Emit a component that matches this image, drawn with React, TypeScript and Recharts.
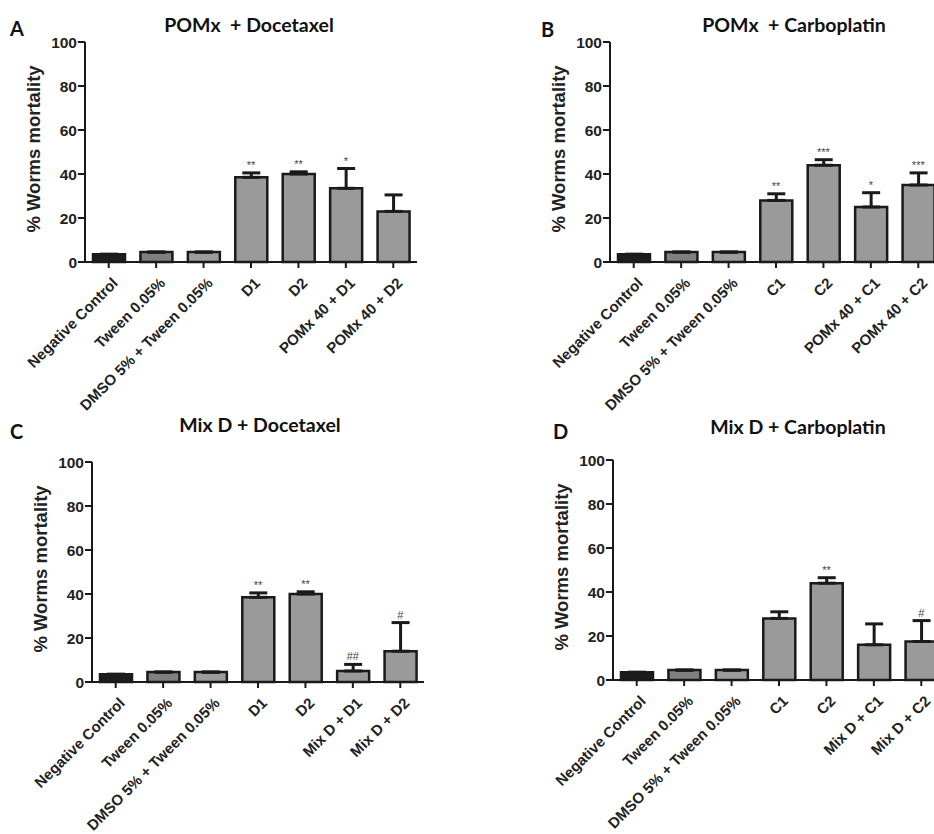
import React from "react"
import { ComposedChart, Bar, Line, XAxis, YAxis, ErrorBar, Cell, LabelList } from "recharts"

const controlLabels = ["Negative Control", "Tween 0.05%", "DMSO 5% + Tween 0.05%"]

const pomxDocLabels = [...controlLabels, "D1", "D2", "POMx 40 + D1", "POMx 40 + D2"]
const pomxDocValues = [3.5, 4.5, 4.5, 38.5, 40, 33.5, 23]
const pomxDocErrors = [0, 0, 0, 2, 1, 9, 7.5]
const pomxDocSig = ["", "", "", "**", "**", "*", ""]

const pomxCarLabels = [...controlLabels, "C1", "C2", "POMx 40 + C1", "POMx 40 + C2"]
const pomxCarValues = [3.5, 4.5, 4.5, 28, 44, 25, 35]
const pomxCarErrors = [0, 0, 0, 3, 2.5, 6.5, 5.5]
const pomxCarSig = ["", "", "", "**", "***", "*", "***"]

const mixDocLabels = [...controlLabels, "D1", "D2", "Mix D + D1", "Mix D + D2"]
const mixDocValues = [3.5, 4.5, 4.5, 38.5, 40, 5, 14]
const mixDocErrors = [0, 0, 0, 2, 1, 3, 13]
const mixDocSig = ["", "", "", "**", "**", "##", "#"]

const mixCarLabels = [...controlLabels, "C1", "C2", "Mix D + C1", "Mix D + C2"]
const mixCarValues = [3.5, 4.5, 4.5, 28, 44, 16, 17.5]
const mixCarErrors = [0, 0, 0, 3, 2.5, 9.5, 9.5]
const mixCarSig = ["", "", "", "", "**", "", "#"]

const yTicks = [0, 20, 40, 60, 80, 100]

const barColors = ["#1c1c1c", "#808080", "#9c9c9c", "#9a9a9a", "#9a9a9a", "#9a9a9a", "#9a9a9a"]
const ink = "#1a1a1a"
const arial = "'Liberation Sans', Arial, sans-serif"
const titleFont = "Lato, 'Open Sans', sans-serif"

function buildRows(labels: string[], values: number[], errors: number[], sig: string[]) {
  return labels.map((name, i) => ({
    name,
    value: values[i],
    err: [0, errors[i]],
    top: values[i] + errors[i],
    sig: sig[i],
  }))
}

function AngledTick(props: any) {
  const { x, y, payload } = props
  return (
    <text
      transform={`translate(${x + 10},${y + 14}) rotate(-45)`}
      textAnchor="end"
      fontSize={15}
      fontWeight="bold"
      fontFamily={arial}
      fill="#222"
    >
      {payload.value}
    </text>
  )
}

function ValueTick(props: any) {
  const { x, y, payload } = props
  return (
    <text
      x={x}
      y={y}
      dy="0.36em"
      textAnchor="end"
      fontSize={15.5}
      fontWeight="bold"
      fontFamily={arial}
      fill="#222"
    >
      {payload.value}
    </text>
  )
}

interface PanelProps {
  letter: string
  title: string
  axisX: number
  y100: number
  letterPos: [number, number]
  titlePos: [number, number]
  rows: ReturnType<typeof buildRows>
}

function Panel({ letter, title, axisX, y100, letterPos, titlePos, rows }: PanelProps) {
  const plotW = 332
  const plotH = 220
  const left = 85
  const top = 30
  return (
    <>
      <div
        style={{
          position: "absolute",
          left: letterPos[0],
          top: letterPos[1],
          fontFamily: titleFont,
          fontWeight: 700,
          fontSize: 20,
          color: "#111",
          lineHeight: 1,
        }}
      >
        {letter}
      </div>
      <div
        style={{
          position: "absolute",
          left: titlePos[0] - 150,
          width: 300,
          top: titlePos[1],
          textAlign: "center",
          fontFamily: titleFont,
          fontWeight: 700,
          fontSize: 19.5,
          color: "#111",
          lineHeight: 1,
          whiteSpace: "pre",
        }}
      >
        {title}
      </div>
      <div style={{ position: "absolute", left: axisX - left, top: y100 - top }}>
        <ComposedChart
          width={left + plotW + 10}
          height={top + plotH + 170}
          data={rows}
          margin={{ top, right: 10, left: 35, bottom: 0 }}
          barCategoryGap={0}
          style={{ overflow: "visible" }}
        >
          <XAxis
            dataKey="name"
            interval={0}
            height={170}
            tick={<AngledTick />}
            tickSize={6}
            tickMargin={2}
            axisLine={{ stroke: ink, strokeWidth: 2 }}
            tickLine={{ stroke: ink, strokeWidth: 2 }}
          />
          <YAxis
            domain={[0, 100]}
            ticks={yTicks}
            width={50}
            tickSize={7}
            tickMargin={1}
            axisLine={{ stroke: ink, strokeWidth: 2 }}
            tickLine={{ stroke: ink, strokeWidth: 2 }}
            tick={<ValueTick />}
            label={{
              content: (p: any) => {
                const vb = p.viewBox
                const cx = vb.x + vb.width - 52
                const cy = vb.y + vb.height / 2 - 3
                return (
                  <text
                    x={cx}
                    y={cy}
                    transform={`rotate(-90,${cx},${cy})`}
                    textAnchor="middle"
                    dominantBaseline="central"
                    fontSize={18.5}
                    fontWeight="bold"
                    fontFamily={arial}
                    fill="#222"
                  >
                    % Worms mortality
                  </text>
                )
              },
            }}
          />
          <Bar dataKey="value" barSize={32} stroke={ink} strokeWidth={2.5} isAnimationActive={false}>
            {rows.map((_, i) => (
              <Cell key={`cell-${i}`} fill={barColors[i]} />
            ))}
            <ErrorBar dataKey="err" width={9} stroke={ink} strokeWidth={3} direction="y" />
          </Bar>
          <Line
            dataKey="top"
            stroke="none"
            dot={false}
            activeDot={false}
            legendType="none"
            isAnimationActive={false}
          >
            <LabelList dataKey="sig" position="top" offset={4} fontSize={11} fill="#444" fontFamily={arial} />
          </Line>
        </ComposedChart>
      </div>
    </>
  )
}

export default function App() {
  return (
    <div
      style={{
        position: "absolute",
        left: 0,
        top: 0,
        width: 934,
        height: 834,
        overflow: "hidden",
        background: "#fff",
      }}
    >
      <Panel
        letter="A"
        title="POMx  + Docetaxel"
        axisX={85}
        y100={42}
        letterPos={[10, 18]}
        titlePos={[249, 15]}
        rows={buildRows(pomxDocLabels, pomxDocValues, pomxDocErrors, pomxDocSig)}
      />
      <Panel
        letter="B"
        title="POMx  + Carboplatin"
        axisX={610}
        y100={42}
        letterPos={[541, 19]}
        titlePos={[794, 15]}
        rows={buildRows(pomxCarLabels, pomxCarValues, pomxCarErrors, pomxCarSig)}
      />
      <Panel
        letter="C"
        title="Mix D + Docetaxel"
        axisX={92}
        y100={462}
        letterPos={[10, 421]}
        titlePos={[260, 415]}
        rows={buildRows(mixDocLabels, mixDocValues, mixDocErrors, mixDocSig)}
      />
      <Panel
        letter="D"
        title="Mix D + Carboplatin"
        axisX={613}
        y100={460}
        letterPos={[553, 421]}
        titlePos={[798, 417]}
        rows={buildRows(mixCarLabels, mixCarValues, mixCarErrors, mixCarSig)}
      />
    </div>
  )
}
